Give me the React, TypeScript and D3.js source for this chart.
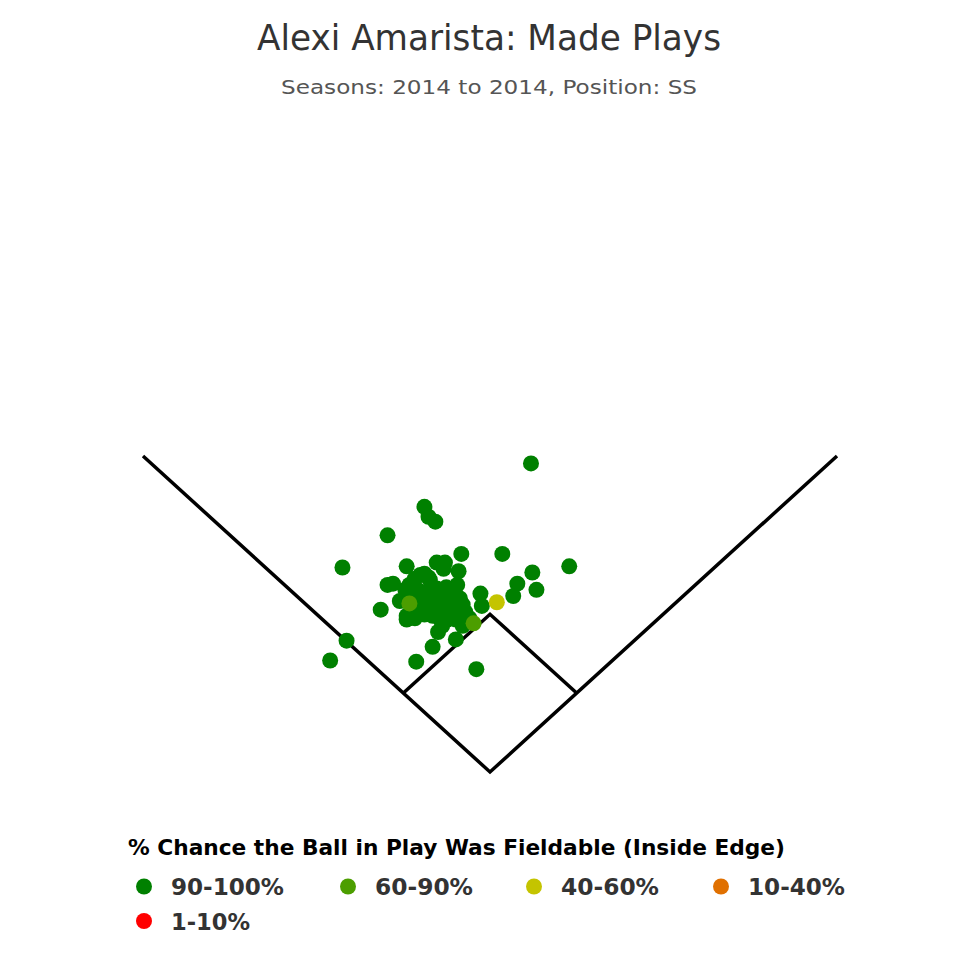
import React from "react";
import * as d3 from "d3";

// Hit locations in feet (x: toward 1B positive, y: away from home plate)
const green90to100: [number, number][] = [
  [30, 249], [-48, 214], [-45, 206], [-40, 202], [-75, 191], [-108, 165], [58, 166],
  [9, 176], [-21, 176], [31, 161], [20, 152], [34, 147], [17, 142], [-61, 166],
  [-39, 169], [-33, 169], [-34, 164], [-23, 162], [-48, 160], [-75, 151], [-71, 152],
  [-7, 144], [-6, 134], [-80, 131], [-105, 106], [-117, 90], [-54, 89], [-42, 101],
  [-10, 83], [-25, 107], [-38, 113], [-35, 118], [-61, 123],
  [-66, 138], [-62, 147], [-59, 151], [-55, 156], [-51, 159], [-45, 157], [-53, 147],
  [-48, 145], [-42, 143], [-37, 142], [-31, 143], [-26, 145], [-22, 140], [-20, 135],
  [-23, 130], [-29, 127], [-33, 134], [-40, 134], [-45, 135], [-51, 132], [-57, 129],
  [-61, 126], [-55, 124], [-48, 127], [-42, 126], [-37, 124], [-31, 123], [-25, 123],
  [-20, 118], [-44, 131], [-38, 139], [-50, 139], [-56, 139], [-24, 151], [-32, 149],
  [-39, 148], [-28, 135], [-18, 129], [-15, 124], [-44, 155],
];
const green60to90: [number, number][] = [[-59, 136], [-12, 120]];
const yellow40to60: [number, number][] = [[5, 137]];
const orange10to40: [number, number][] = [];
const red1to10: [number, number][] = [];

const legendLabels = ["90-100%", "60-90%", "40-60%", "10-40%", "1-10%"];
const legendColors = ["#008000", "#4c9e00", "#c4c400", "#e07000", "#ff0000"];

// Field outline (feet)
const foulLine: [number, number][] = [[-254, 255], [0, 0], [254, 255]];
const infield: [number, number][] = [[-63.6, 63.6], [0, 127.3], [63.6, 63.6]];

export default function App() {
  const x = d3.scaleLinear().domain([-254, 254]).range([143, 837]);
  const y = d3.scaleLinear().domain([0, 255]).range([772, 456]);
  const line = d3.line<[number, number]>().x((d) => x(d[0])).y((d) => y(d[1]));

  const series = [
    { data: green90to100, color: legendColors[0] },
    { data: green60to90, color: legendColors[1] },
    { data: yellow40to60, color: legendColors[2] },
    { data: orange10to40, color: legendColors[3] },
    { data: red1to10, color: legendColors[4] },
  ];

  const legendX = [144, 348, 534, 721, 144];
  const legendY = [886.5, 886.5, 886.5, 886.5, 921];
  const legendW = [113, 98, 98, 97, 79];

  return (
    <svg width={980} height={980} style={{ position: "absolute", left: 0, top: 0 }}
      fontFamily="'DejaVu Sans', sans-serif">
      <rect width={980} height={980} fill="#fff" />
      <text x={257} y={49.5} fontSize={35} fill="#333" textLength={464} lengthAdjust="spacingAndGlyphs">
        Alexi Amarista: Made Plays
      </text>
      <text x={281} y={94} fontSize={20} fill="#555" textLength={416} lengthAdjust="spacingAndGlyphs">
        Seasons: 2014 to 2014, Position: SS
      </text>
      <path d={line(foulLine) || ""} fill="none" stroke="#000" strokeWidth={3.5} />
      <path d={line(infield) || ""} fill="none" stroke="#000" strokeWidth={3.5} />
      {series.map((s, si) =>
        s.data.map((d, i) => (
          <circle key={`${si}-${i}`} cx={x(d[0])} cy={y(d[1])} r={8} fill={s.color} />
        ))
      )}
      <text x={128} y={855} fontSize={22} fontWeight="bold" fill="#000" textLength={657}
        lengthAdjust="spacingAndGlyphs">
        % Chance the Ball in Play Was Fieldable (Inside Edge)
      </text>
      {legendLabels.map((lab, i) => (
        <g key={lab}>
          <circle cx={legendX[i]} cy={legendY[i]} r={8} fill={legendColors[i]} />
          <text x={legendX[i] + 27} y={legendY[i] + 8.5} fontSize={23}
            fontWeight="bold" fill="#333" textLength={legendW[i]} lengthAdjust="spacingAndGlyphs">
            {lab}
          </text>
        </g>
      ))}
    </svg>
  );
}
